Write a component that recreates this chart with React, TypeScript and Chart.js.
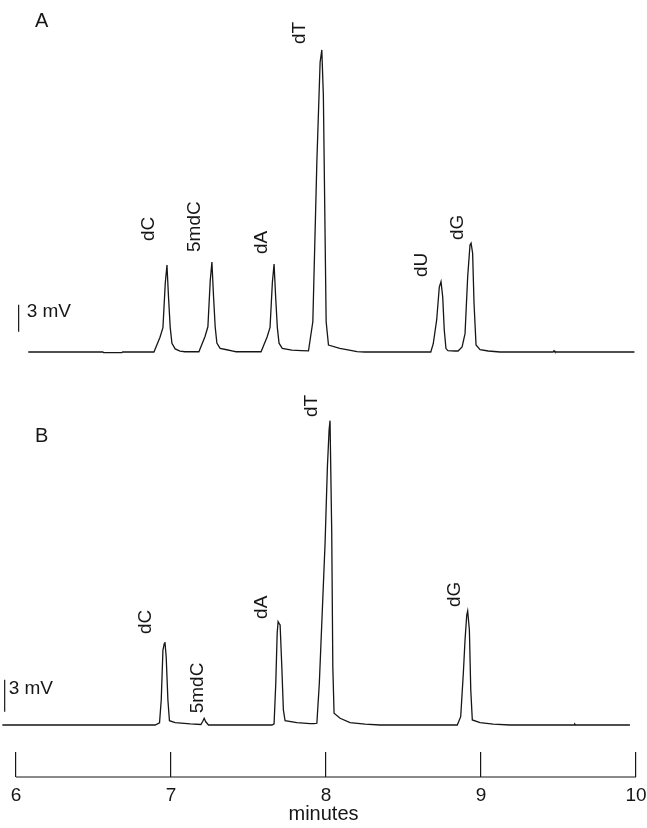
import { useEffect, useRef } from 'react';
import { Chart, registerables } from 'chart.js';

Chart.register(...registerables);

// ---- data (minutes / mV) ----
const timeA = [
  6.079, 6.56, 6.565, 6.683, 6.688, 6.89, 6.929, 6.948, 6.963, 6.974, 6.984, 6.995, 7.006, 7.027, 7.058, 7.09,
  7.18, 7.219, 7.238, 7.253, 7.264, 7.274, 7.285, 7.296, 7.317, 7.36, 7.4, 7.42,
  7.581, 7.62, 7.639, 7.654, 7.665, 7.675, 7.686, 7.697, 7.718, 7.78, 7.84,
  7.887, 7.915, 7.941, 7.962, 7.973, 7.983, 8.001, 8.016, 8.089, 8.15, 8.2, 8.25,
  8.676, 8.692, 8.714, 8.731, 8.742, 8.753, 8.763, 8.774, 8.787, 8.832,
  8.852, 8.878, 8.897, 8.914, 8.929, 8.936, 8.946, 8.955, 8.968, 8.994, 9.047, 9.123,
  9.465, 9.471, 9.477, 9.99,
];
const signalA = [
  0, 0, -0.06, -0.06, 0, 0, 1.64, 2.71, 7.64, 9.67, 6.09, 2.71, 0.97, 0.34, 0.1, 0.03,
  0.03, 1.7, 2.8, 7.9, 10.0, 6.3, 2.8, 1.0, 0.4, 0.25, 0.1, 0.03,
  0.03, 1.66, 2.74, 7.73, 9.78, 6.16, 2.74, 0.98, 0.4, 0.2, 0.15,
  0.12, 3.36, 21.1, 32.2, 33.56, 28.5, 3.36, 0.77, 0.4, 0.2, 0.05, 0,
  0, 0.92, 3.56, 7.22, 7.81, 6.11, 2.44, 0.38, 0.15, 0.11,
  0.11, 0.56, 2.04, 8.33, 11.9, 12.1, 10.97, 5.41, 0.78, 0.27, 0.11, 0,
  0, 0.15, 0, 0,
];
const timeB = [
  5.912, 6.898, 6.926, 6.937, 6.948, 6.956, 6.961, 6.969, 6.98, 6.99, 7.027, 7.124,
  7.193, 7.205, 7.214, 7.224, 7.242,
  7.652, 7.665, 7.676, 7.685, 7.691, 7.698, 7.704, 7.715, 7.725, 7.736, 7.812, 7.897,
  7.923, 7.941, 7.957, 7.979, 7.994, 8.009, 8.02, 8.026, 8.037, 8.044, 8.052, 8.091, 8.155, 8.252, 8.349,
  8.847, 8.869, 8.886, 8.897, 8.908, 8.914, 8.925, 8.934, 8.944, 8.994, 9.079, 9.187,
  9.6, 9.605, 9.61, 9.961,
];
const signalB = [
  0, 0, 0.2, 2.34, 7.03, 7.6, 7.78, 6.37, 2.34, 0.4, 0.22, 0.1,
  0.05, 0.35, 0.63, 0.3, 0,
  0, 0.1, 3.91, 8.6, 9.69, 9.5, 9.38, 5.44, 1.41, 0.4, 0.22, 0.12,
  0.12, 0.16, 3.91, 11.72, 17.03, 24.19, 27.66, 28.53, 17.97, 5.44, 1.1, 0.63, 0.22, 0.08, 0,
  0, 0.78, 4.85, 7.97, 10.31, 10.69, 8.91, 3.28, 0.47, 0.22, 0.08, 0,
  0, 0.09, 0, 0,
];

const tickMinutes = [6, 7, 8, 9, 10];

const peakNamesA = ['dC', '5mdC', 'dA', 'dT', 'dU', 'dG'];
const peakTimesA = [6.974, 7.264, 7.665, 7.973, 8.742, 8.936];
const peakHeightsA = [9.67, 10.0, 9.78, 33.56, 7.81, 12.1];

const peakNamesB = ['dC', '5mdC', 'dA', 'dT', 'dG'];
const peakTimesB = [6.961, 7.214, 7.691, 8.026, 8.914];
const peakHeightsB = [7.78, 0.63, 9.69, 28.53, 10.69];

const scaleBarMv = 3;
const scaleBarTimes = [6.017, 5.927];
const scaleBarStarts = [2.26, 1.25];

// ---- layout (pixels) ----
const W = 647;
const H = 828;
const PX_PER_MIN = 155;
const X6 = 16; // pixel of 6 min
const AREA_BOTTOM = 777;
const BASE_A = 352;
const BASE_B = 725;
const MV_PER_PX_A = 3 / 27;
const MV_PER_PX_B = 3 / 32;
const labelOffsetsA = [[-18.7, -24], [-16.7, -10], [-12, -10], [-21.7, -6], [-19, -4.7], [-13, -3]];
const labelOffsetsB = [[-18.8, -8], [-6, -5], [-16, -2.7], [-18.5, -3.7], [-12.7, -4]];
const mvTextOffsets = [[8, 7], [4, 9]];

const FONT = '"Liberation Sans", Arial, Helvetica, sans-serif';
const INK = '#161616';

const xMin = 6 - X6 / PX_PER_MIN;
const xMax = xMin + W / PX_PER_MIN;
const yAmin = -(AREA_BOTTOM - BASE_A) * MV_PER_PX_A;
const yAmax = BASE_A * MV_PER_PX_A;
const yBmin = -(AREA_BOTTOM - BASE_B) * MV_PER_PX_B;
const yBmax = BASE_B * MV_PER_PX_B;

const toPoints = (t: number[], v: number[]) => t.map((x, i) => ({ x, y: v[i] }));

const labelsPlugin = {
  id: 'chromLabels',
  afterDatasetsDraw(chart: any) {
    const { ctx, scales } = chart;
    const xs = scales.x;
    const ya = scales.yA;
    const yb = scales.yB;
    ctx.save();
    ctx.fillStyle = INK;
    ctx.textBaseline = 'middle';

    // panel letters
    ctx.font = `20px ${FONT}`;
    ctx.textAlign = 'center';
    ctx.fillText('A', 41.7, 21.7);
    ctx.fillText('B', 41.7, 436);

    // peak labels, rotated
    ctx.font = `19px ${FONT}`;
    ctx.textAlign = 'left';
    const rot = (txt: string, px: number, py: number) => {
      ctx.save();
      ctx.translate(px, py);
      ctx.rotate(-Math.PI / 2);
      ctx.fillText(txt, 0, 0);
      ctx.restore();
    };
    peakNamesA.forEach((n, i) => {
      rot(n, xs.getPixelForValue(peakTimesA[i]) + labelOffsetsA[i][0], ya.getPixelForValue(peakHeightsA[i]) + labelOffsetsA[i][1]);
    });
    peakNamesB.forEach((n, i) => {
      rot(n, xs.getPixelForValue(peakTimesB[i]) + labelOffsetsB[i][0], yb.getPixelForValue(peakHeightsB[i]) + labelOffsetsB[i][1]);
    });

    // scale bar texts
    [ya, yb].forEach((ys, i) => {
      const px = xs.getPixelForValue(scaleBarTimes[i]) + mvTextOffsets[i][0];
      const py = ys.getPixelForValue(scaleBarStarts[i] + scaleBarMv) + mvTextOffsets[i][1];
      ctx.fillText(`${scaleBarMv} mV`, px, py);
    });
    ctx.restore();
  },
};

export default function App() {
  const ref = useRef<HTMLCanvasElement | null>(null);

  useEffect(() => {
    document.body.style.margin = '0';
    document.documentElement.style.overflow = 'hidden';
    Chart.defaults.font.family = FONT;
    const lineStyle = { borderColor: INK, borderWidth: 1.3, pointRadius: 0, tension: 0, fill: false, clip: false as any };
    const chart = new Chart(ref.current as HTMLCanvasElement, {
      type: 'line',
      data: {
        datasets: [
          { ...lineStyle, data: toPoints(timeA, signalA), yAxisID: 'yA' },
          { ...lineStyle, data: toPoints(timeB, signalB), yAxisID: 'yB' },
          { ...lineStyle, borderWidth: 1.2, data: [{ x: scaleBarTimes[0], y: scaleBarStarts[0] }, { x: scaleBarTimes[0], y: scaleBarStarts[0] + scaleBarMv }], yAxisID: 'yA' },
          { ...lineStyle, borderWidth: 1.2, data: [{ x: scaleBarTimes[1], y: scaleBarStarts[1] }, { x: scaleBarTimes[1], y: scaleBarStarts[1] + scaleBarMv }], yAxisID: 'yB' },
          { ...lineStyle, borderWidth: 1.2, data: [{ x: tickMinutes[0], y: yBmin }, { x: tickMinutes[tickMinutes.length - 1], y: yBmin }], yAxisID: 'yB' },
        ] as any,
      },
      options: {
        responsive: false,
        animation: false,
        events: [],
        layout: { padding: 0 },
        plugins: { legend: { display: false }, tooltip: { enabled: false } },
        scales: {
          x: {
            type: 'linear',
            position: 'bottom',
            min: xMin,
            max: xMax,
            afterBuildTicks: (s: any) => {
              s.ticks = tickMinutes.map((v) => ({ value: v }));
            },
            afterFit: (s: any) => {
              s.height = H - AREA_BOTTOM;
              s.paddingLeft = 0;
              s.paddingRight = 0;
            },
            grid: { display: true, drawOnChartArea: false, drawTicks: true, tickLength: -25, color: INK, lineWidth: 1.2 },
            border: { display: false },
            ticks: { padding: 32, font: { size: 19 }, color: INK, maxRotation: 0, autoSkip: false, callback: (v: any) => String(v) },
            title: { display: true, text: 'minutes', font: { size: 20 }, color: INK, padding: { top: 0, bottom: 2 } },
          },
          yA: { type: 'linear', display: false, min: yAmin, max: yAmax },
          yB: { type: 'linear', display: false, min: yBmin, max: yBmax },
        },
      } as any,
      plugins: [labelsPlugin],
    });
    return () => chart.destroy();
  }, []);

  return <canvas ref={ref} width={W} height={H} style={{ display: 'block', width: W, height: H }} />;
}
